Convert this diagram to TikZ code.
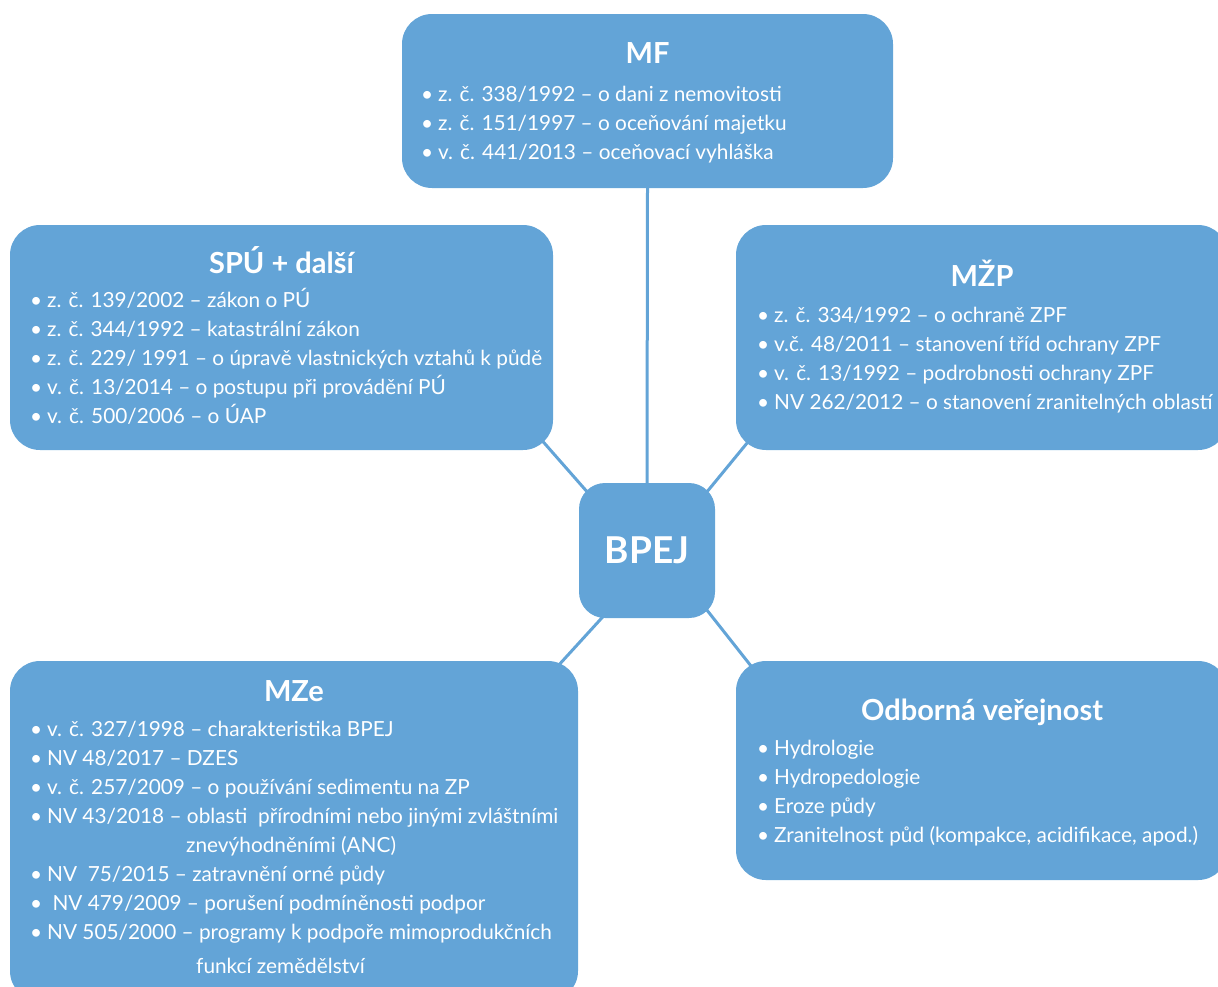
\documentclass[tikz,border=0pt]{standalone}
\usepackage{fontspec}
\setmainfont{Lato}
\usetikzlibrary{positioning,calc,backgrounds}
\definecolor{boxblue}{HTML}{63A4D7}
\tikzset{
  every node/.style={text=white},
  box/.style={fill=boxblue,draw=none,rounded corners=30pt,inner sep=0pt},
  hub/.style={box,rounded corners=26pt,minimum width=136pt,minimum height=135pt,font=\fontsize{37}{40}\selectfont\bfseries},
  head/.style={anchor=base,inner sep=0pt,font=\fontsize{29}{32}\selectfont\bfseries},
  list/.style={anchor=base west,align=left,inner sep=0pt,font=\fontsize{20.8}{29}\selectfont},
  link/.style={draw=boxblue,line width=3pt}
}
\newcommand{\li}{\makebox[17pt][l]{•}}

\begin{document}
\begin{tikzpicture}[x=1pt,y=-1pt]
  \useasboundingbox (0,0) rectangle (1218,986);

  % hub
  \node[hub] (bpej) at (647,550.5) {BPEJ};

  % ministries (list nodes sit on the baseline of their last line)
  \node[box,minimum width=491pt,minimum height=174pt] (mf) at (647.5,101) {};
  \node[head] (mfhead) at (647.5,63) {MF};
  \node[list] (mflist) at (421,159) {\li z. č. 338/1992 – o dani z nemovitosti\\\li z. č. 151/1997 – o oceňování majetku\\\li v. č. 441/2013 – oceňovací vyhláška};

  \node[box,minimum width=543pt,minimum height=225pt] (spu) at (281.5,337.5) {};
  \node[head] (spuhead) at (281.5,273) {SPÚ + další};
  \node[list] (spulist) at (30,423) {\li z. č. 139/2002 – zákon o PÚ\\\li z. č. 344/1992 – katastrální zákon\\\li z. č. 229/ 1991 – o úpravě vlastnických vztahů k půdě\\\li v. č. 13/2014 – o postupu při provádění PÚ\\\li v. č. 500/2006 – o ÚAP};

  \node[box,minimum width=492pt,minimum height=225pt] (mzp) at (982,337.5) {};
  \node[head] (mzphead) at (982,286) {MŽP};
  \node[list] (mzplist) at (757,409) {\li z. č. 334/1992 – o ochraně ZPF\\\li v.č. 48/2011 – stanovení tříd ochrany ZPF\\\li v. č. 13/1992 – podrobnosti ochrany ZPF\\\li NV 262/2012 – o stanovení zranitelných oblastí};

  \node[box,minimum width=568pt,minimum height=340pt] (mze) at (294,831) {};
  \node[head] (mzehead) at (294,701) {MZe};
  \node[list] (mzelist) at (30,973) {\li v. č. 327/1998 – charakteristika BPEJ\\\li NV 48/2017 – DZES\\\li v. č. 257/2009 – o používání sedimentu na ZP\\\li NV 43/2018 – oblasti\ \ přírodními nebo jinými zvláštními\\\hspace*{156pt}znevýhodněními (ANC)\\\li NV\ \ 75/2015 – zatravnění orné půdy\\\li\ NV 479/2009 – porušení podmíněnosti podpor\\\li NV 505/2000 – programy k podpoře mimoprodukčních\\[5pt]\hspace*{166pt}funkcí zemědělství};

  \node[box,minimum width=492pt,minimum height=219pt] (odb) at (982,770.5) {};
  \node[head] (odbhead) at (982,720) {Odborná veřejnost};
  \node[list] (odblist) at (757,842) {\li Hydrologie\\\li Hydropedologie\\\li Eroze půdy\\\li Zranitelnost půd (kompakce, acidifikace, apod.)};

  \begin{scope}[on background layer]
    \draw[link] (mf.south) -- (bpej.north);
    \draw[link] ([shift={(25,28)}]bpej.north west) -- ([shift={(-29,-30)}]spu.south east);
    \draw[link] ([shift={(-23,27)}]bpej.north east) -- ([shift={(30,-30)}]mzp.south west);
    \draw[link] ([shift={(41,-20)}]bpej.south west) -- ([shift={(-42,29)}]mze.north east);
    \draw[link] ([shift={(-20,-23)}]bpej.south east) -- ([shift={(34,29)}]odb.north west);
  \end{scope}
\end{tikzpicture}
\end{document}
